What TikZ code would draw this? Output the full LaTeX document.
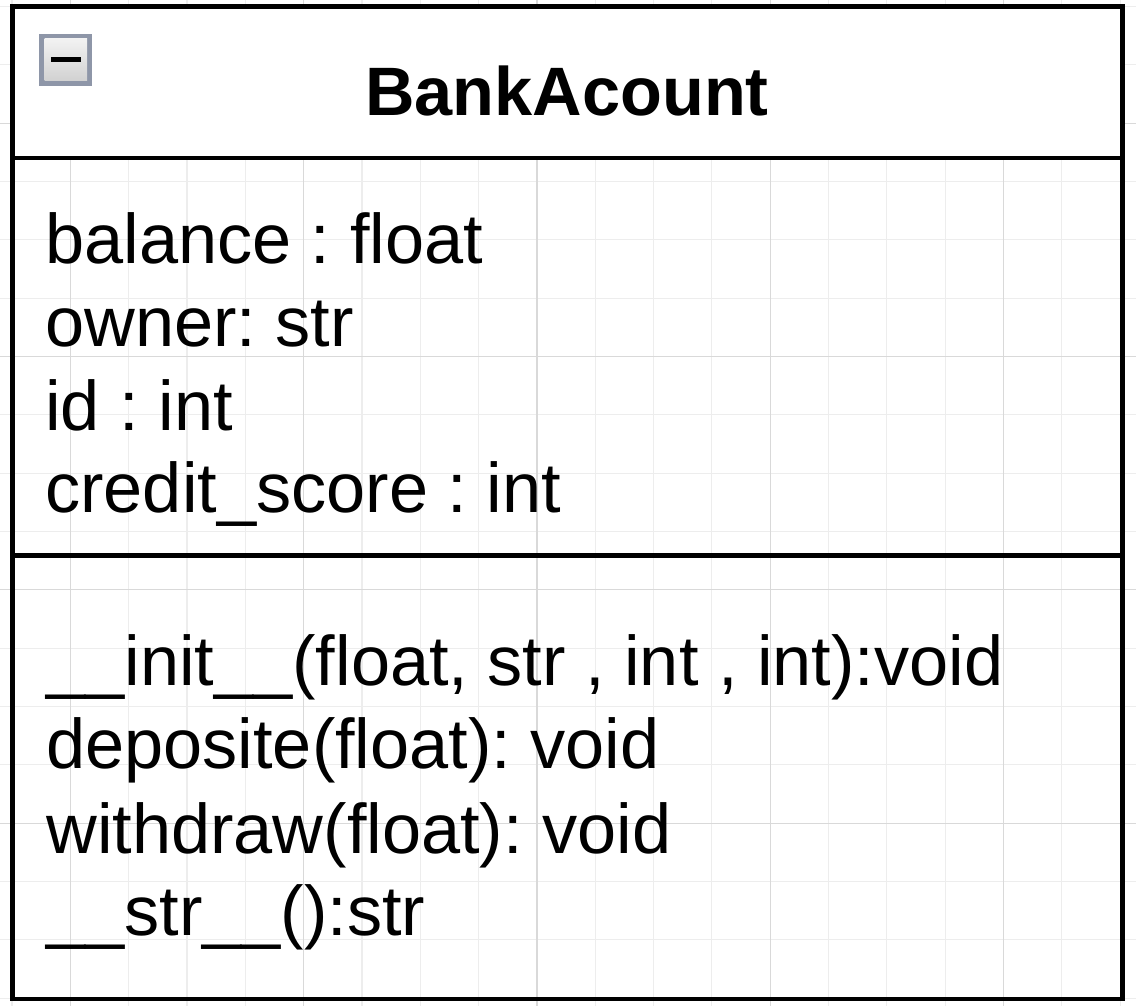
\documentclass[tikz,border=0pt]{standalone}
\usepackage{fontspec}
\setmainfont{Liberation Sans}
\frenchspacing
\definecolor{iconedge}{RGB}{142,150,168}
\tikzset{
  gridminor/.style={draw=black!7, line width=0.6pt},
  gridmajor/.style={draw=black!15, line width=0.6pt},
  umlline/.style={line width=2.8pt},
  member/.style={anchor=base west, inner sep=0pt, font=\fontsize{40}{48}\selectfont},
}

\begin{document}
\begin{tikzpicture}[x=0.02cm, y=-0.02cm]
    \useasboundingbox (0,0) rectangle (1136,1006);
    % background grid
    \foreach \i in {0,...,19} \draw[gridminor] ({12+58.33*\i},0) -- ({12+58.33*\i},1006);
    \foreach \j in {0,...,17} \draw[gridminor] (0,{6.5+58.33*\j}) -- (1136,{6.5+58.33*\j});
    \foreach \i in {1,5,9,13,17} \draw[gridmajor] ({12+58.33*\i},0) -- ({12+58.33*\i},1006);
    \foreach \j in {2,6,10,14} \draw[gridmajor] (0,{6.5+58.33*\j}) -- (1136,{6.5+58.33*\j});
    % class box
    \filldraw [umlline, fill=white] (12.5,6.5) rectangle (1122.5,158);
    \draw [umlline] (12.5,6.5) rectangle (1122.5,999);
    \draw [umlline] (12.5,555.5) -- (1122.5,555.5);
    % collapse icon
    \fill [iconedge] (39,34) rectangle (92,86);
    \shade [top color=black!5, bottom color=black!18] (44.5,39) rectangle (87,81);
    \fill [black] (51,57) rectangle (80.5,62.5);
    % texts
    \node[anchor=base, inner sep=0pt, font=\bfseries\fontsize{39}{48}\selectfont] (title) at (567,116) {BankAcount};
    \node[member] (balance) at (45,264) {balance : float};
    \node[member] (owner) at (45,347) {owner: str};
    \node[member] (id) at (45,431) {id : int};
    \node[member] (score) at (45,513) {credit\_score : int};
    \node[member] (init) at (46,685) {\_\_init\_\_(float, str , int , int):void};
    \node[member] (deposite) at (46,768) {deposite(float): void};
    \node[member] (withdraw) at (46,853) {withdraw(float): void};
    \node[member] (str) at (46,935) {\_\_str\_\_():str};
\end{tikzpicture}
\end{document}
